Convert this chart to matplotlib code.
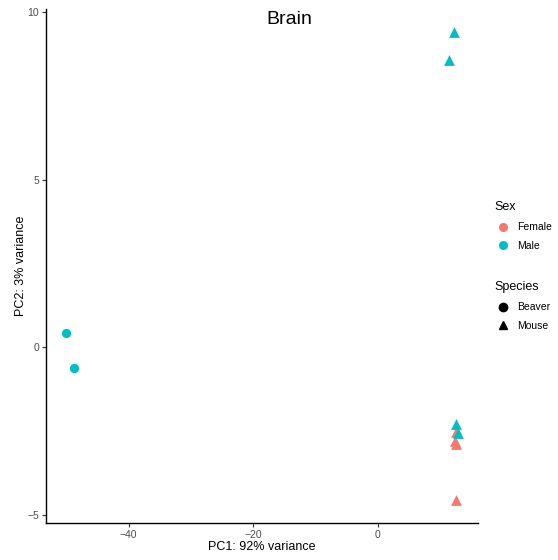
import matplotlib
matplotlib.use("Agg")
import matplotlib.pyplot as plt
from matplotlib.lines import Line2D

plt.rcParams["font.family"] = ["Liberation Sans", "DejaVu Sans"]

# PCA coordinates
pc1 = [-50.1, -48.7, 12.2, 11.4, 12.5, 12.4, 12.6, 12.5, 12.5, 12.9]
pc2 = [0.42, -0.62, 9.40, 8.57, -2.52, -2.79, -2.89, -4.54, -2.29, -2.56]
sex = ["Male", "Male", "Male", "Male", "Female", "Female", "Female", "Female", "Male", "Male"]
species = ["Beaver", "Beaver", "Mouse", "Mouse", "Mouse", "Mouse", "Mouse", "Mouse", "Mouse", "Mouse"]

sex_levels = ["Female", "Male"]
species_levels = ["Beaver", "Mouse"]
sex_colors = {"Female": "#F8766D", "Male": "#00BFC4"}
species_markers = {"Beaver": "o", "Mouse": "^"}

fig = plt.figure(figsize=(5.58, 5.60), dpi=100)
ax = fig.add_axes([0.0824, 0.066, 0.7742, 0.9186])

for x, y, s, sp in zip(pc1, pc2, sex, species):
    ax.scatter(x, y, s=45 if sp == "Beaver" else 60, c=sex_colors[s],
               marker=species_markers[sp], linewidths=0, zorder=3)

xmin, xmax = min(pc1), max(pc1)
ymin, ymax = min(pc2), max(pc2)
ax.set_xlim(xmin - 0.05 * (xmax - xmin), xmax + 0.05 * (xmax - xmin))
ax.set_ylim(ymin - 0.05 * (ymax - ymin), ymax + 0.05 * (ymax - ymin))
ax.set_xticks([-40, -20, 0])
ax.set_yticks([-5, 0, 5, 10])
ax.tick_params(labelsize=7.5, labelcolor="#4D4D4D", color="#333333", length=3, width=0.8, pad=2)
ax.spines["top"].set_visible(False)
ax.spines["right"].set_visible(False)
for side in ("left", "bottom"):
    ax.spines[side].set_linewidth(1.0)
    ax.spines[side].set_color("black")
ax.set_xlabel("PC1: 92% variance", fontsize=9, va="center")
ax.set_ylabel("PC2: 3% variance", fontsize=9, va="center")
ax.xaxis.set_label_coords(0.5, -0.0467)
ax.yaxis.set_label_coords(-0.057, 0.5)

fig.text(289 / 558, 1 - 20 / 560, "Brain", fontsize=14, ha="center", va="center")

sex_handles = [Line2D([], [], marker="o", ls="", color=sex_colors[k], markersize=5.5, label=k)
               for k in sex_levels]
sp_handles = [Line2D([], [], marker=species_markers[k], ls="", color="black", markersize=6, label=k)
              for k in species_levels]
leg_kw = dict(loc="upper left", frameon=False, fontsize=7.5, title_fontsize=9,
              handletextpad=0.55, labelspacing=0.85, handlelength=1.6, alignment="left")
fig.legend(handles=sex_handles, title="Sex", bbox_to_anchor=(485 / 558, 1 - 192 / 560), **leg_kw)
fig.legend(handles=sp_handles, title="Species", bbox_to_anchor=(485 / 558, 1 - 272 / 560), **leg_kw)

fig.savefig("out.png", dpi=100)
